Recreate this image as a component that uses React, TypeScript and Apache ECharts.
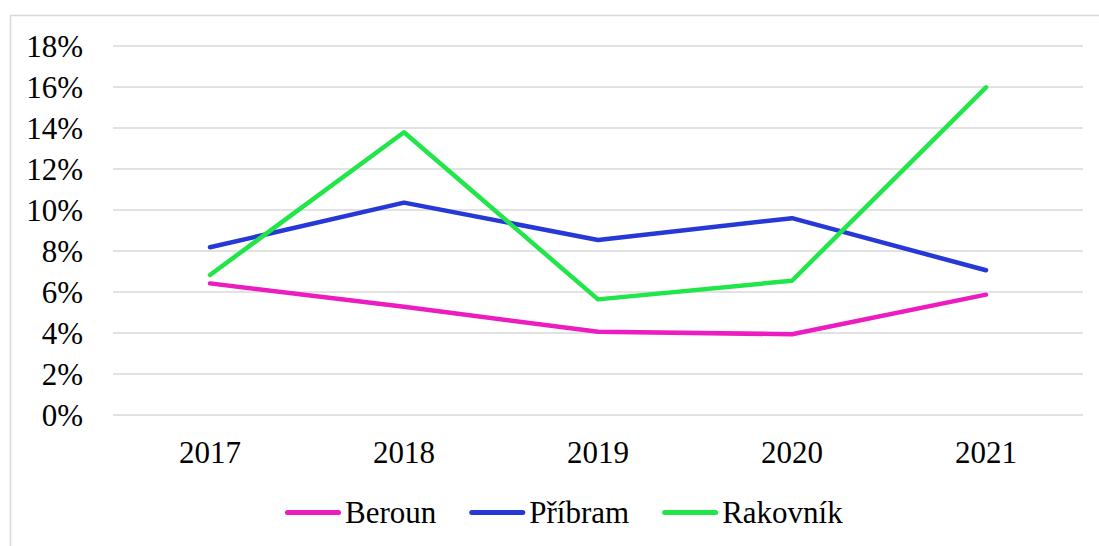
import React, { useEffect, useRef } from "react";
import * as echarts from "echarts";

const years = ["2017", "2018", "2019", "2020", "2021"];
const beroun = [6.42, 5.28, 4.06, 3.94, 5.87];
const pribram = [8.18, 10.36, 8.54, 9.6, 7.06];
const rakovnik = [6.83, 13.79, 5.64, 6.55, 15.98];
const seriesNames = ["Beroun", "Příbram", "Rakovník"];
const colors = ["#EC1CC0", "#2638D6", "#21E64A"];

const FONT = "'Liberation Serif', 'Times New Roman', serif";
const PILL = "path://M2.5,0 L53.5,0 A2.5,2.5 0 0 1 53.5,5 L2.5,5 A2.5,2.5 0 0 1 2.5,0 Z";

export default function App() {
  const ref = useRef<HTMLDivElement>(null);
  useEffect(() => {
    if (!ref.current) return;
    const chart = echarts.init(ref.current, undefined, { renderer: "svg" });
    const dataSets = [beroun, pribram, rakovnik];
    chart.setOption({
      animation: false,
      backgroundColor: "#ffffff",
      textStyle: { fontFamily: FONT },
      graphic: [
        {
          type: "rect",
          shape: { x: 10.5, y: 15.5, width: 1100, height: 560 },
          style: { fill: "none", stroke: "#d9d9d9", lineWidth: 1.5 },
          silent: true,
        },
      ],
      grid: { left: 113, right: 16, top: 46, bottom: 131 },
      xAxis: {
        type: "category",
        data: years,
        boundaryGap: true,
        axisLine: { show: false },
        axisTick: { show: false },
        axisLabel: { color: "#000", fontSize: 31, fontFamily: FONT, margin: 22 },
      },
      yAxis: {
        type: "value",
        min: 0,
        max: 18,
        interval: 2,
        axisLine: { show: false },
        axisTick: { show: false },
        axisLabel: {
          color: "#000",
          fontSize: 31,
          fontFamily: FONT,
          margin: 30,
          formatter: (v: number) => `${v}%`,
        },
        splitLine: { lineStyle: { color: "#d9d9d9", width: 1.5 } },
      },
      legend: {
        left: 285,
        top: 497,
        padding: 0,
        itemWidth: 56,
        itemHeight: 5,
        itemGap: 33,
        icon: PILL,
        textStyle: { color: "#000", fontSize: 31, fontFamily: FONT, padding: [0, 0, 0, -1] },
        data: seriesNames,
      },
      series: seriesNames.map((name, i) => ({
        name,
        type: "line",
        data: dataSets[i],
        symbol: "none",
        color: colors[i],
        lineStyle: { color: colors[i], width: 4.5, cap: "round", join: "round" },
        itemStyle: { color: colors[i] },
      })),
    });
    return () => chart.dispose();
  }, []);
  return (
    <div
      ref={ref}
      style={{ position: "absolute", left: 0, top: 0, width: 1099, height: 546 }}
    />
  );
}
